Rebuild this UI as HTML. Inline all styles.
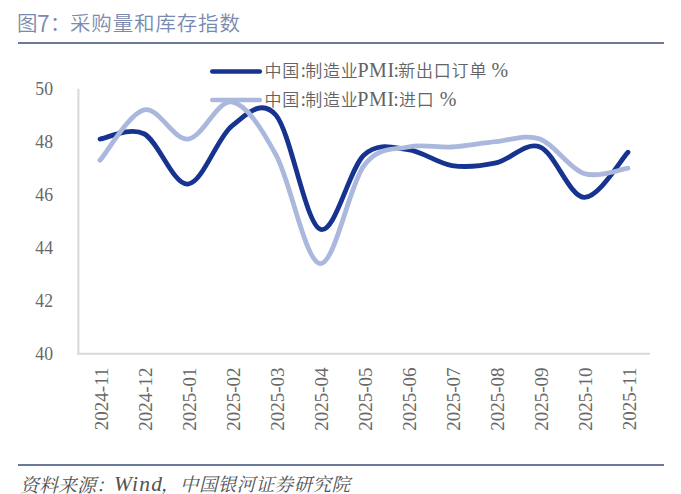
<!DOCTYPE html>
<html><head><meta charset="utf-8">
<style>
html,body{margin:0;padding:0;background:#fff;}
body{width:681px;height:494px;overflow:hidden;position:relative;}
.title{position:absolute;left:17px;top:7.5px;font-family:"Noto Sans CJK SC",sans-serif;font-weight:350;font-size:20.5px;line-height:28px;color:#7a8aae;white-space:nowrap;letter-spacing:0.85px;}
.rule{position:absolute;left:18px;width:646px;height:2px;background:#6b7898;}
.foot{position:absolute;left:20px;top:470px;font-family:"Liberation Serif","Noto Serif CJK SC",serif;font-style:italic;font-size:19px;color:#525252;white-space:nowrap;}
svg{position:absolute;left:0;top:0;}
.ax text{font-family:"Liberation Serif",serif;font-size:19px;fill:#686868;}
.lg text{font-family:"Liberation Serif","Noto Sans CJK SC",serif;font-size:20px;fill:#636363;}
.lg .c{font-family:"Noto Sans CJK SC",sans-serif;font-size:17px;font-weight:350;letter-spacing:0.8px;}
</style></head><body>
<div class="title"><span style="position:absolute;left:0">图</span><span style="position:absolute;left:20px;font-size:23px;top:0.5px">7</span><span style="position:absolute;left:33px">：</span><span style="position:absolute;left:53px">采购量和库存指数</span></div>
<div class="rule" style="top:42px"></div>
<svg width="681" height="494" viewBox="0 0 681 494">
<g fill="none" stroke="#d9d9d9" stroke-width="2">
<line x1="78.4" y1="88.7" x2="78.4" y2="354.7"/>
<line x1="77.4" y1="353.7" x2="650" y2="353.7"/>
</g>
<g class="ax">
<text transform="translate(53 88.70) scale(0.93 1)" text-anchor="end" dy="0.35em">50</text>
<text transform="translate(53 141.70) scale(0.93 1)" text-anchor="end" dy="0.35em">48</text>
<text transform="translate(53 194.70) scale(0.93 1)" text-anchor="end" dy="0.35em">46</text>
<text transform="translate(53 247.70) scale(0.93 1)" text-anchor="end" dy="0.35em">44</text>
<text transform="translate(53 300.70) scale(0.93 1)" text-anchor="end" dy="0.35em">42</text>
<text transform="translate(53 353.70) scale(0.93 1)" text-anchor="end" dy="0.35em">40</text>

<text transform="translate(101.20 367.5) rotate(-90)" x="0" y="0" text-anchor="end" dy="0.35em">2024-11</text>
<text transform="translate(145.20 367.5) rotate(-90)" x="0" y="0" text-anchor="end" dy="0.35em">2024-12</text>
<text transform="translate(189.20 367.5) rotate(-90)" x="0" y="0" text-anchor="end" dy="0.35em">2025-01</text>
<text transform="translate(233.20 367.5) rotate(-90)" x="0" y="0" text-anchor="end" dy="0.35em">2025-02</text>
<text transform="translate(277.20 367.5) rotate(-90)" x="0" y="0" text-anchor="end" dy="0.35em">2025-03</text>
<text transform="translate(321.20 367.5) rotate(-90)" x="0" y="0" text-anchor="end" dy="0.35em">2025-04</text>
<text transform="translate(365.20 367.5) rotate(-90)" x="0" y="0" text-anchor="end" dy="0.35em">2025-05</text>
<text transform="translate(409.20 367.5) rotate(-90)" x="0" y="0" text-anchor="end" dy="0.35em">2025-06</text>
<text transform="translate(453.20 367.5) rotate(-90)" x="0" y="0" text-anchor="end" dy="0.35em">2025-07</text>
<text transform="translate(497.20 367.5) rotate(-90)" x="0" y="0" text-anchor="end" dy="0.35em">2025-08</text>
<text transform="translate(541.20 367.5) rotate(-90)" x="0" y="0" text-anchor="end" dy="0.35em">2025-09</text>
<text transform="translate(585.20 367.5) rotate(-90)" x="0" y="0" text-anchor="end" dy="0.35em">2025-10</text>
<text transform="translate(629.20 367.5) rotate(-90)" x="0" y="0" text-anchor="end" dy="0.35em">2025-11</text>

</g>
<path d="M100.00 139.05 C107.33 138.17 129.33 126.24 144.00 133.75 C158.67 141.26 173.33 185.43 188.00 184.10 C202.67 182.78 217.33 137.28 232.00 125.80 C246.67 114.32 261.33 97.97 276.00 115.20 C290.67 132.42 305.33 222.52 320.00 229.15 C334.67 235.77 349.33 168.20 364.00 154.95 C378.67 141.70 393.33 147.88 408.00 149.65 C422.67 151.42 437.33 163.34 452.00 165.55 C466.67 167.76 481.33 165.99 496.00 162.90 C510.67 159.81 525.33 141.26 540.00 147.00 C554.67 152.74 569.33 196.47 584.00 197.35 C598.67 198.23 620.67 159.81 628.00 152.30" fill="none" stroke="#16338f" stroke-width="4.8" stroke-linecap="round" stroke-linejoin="round"/>
<path d="M100.00 160.25 C107.33 151.86 129.33 113.43 144.00 109.90 C158.67 106.37 173.33 140.37 188.00 139.05 C202.67 137.72 217.33 99.30 232.00 101.95 C246.67 104.60 261.33 128.01 276.00 154.95 C290.67 181.89 305.33 261.83 320.00 263.60 C334.67 265.37 349.33 184.98 364.00 165.55 C378.67 146.12 393.33 150.09 408.00 147.00 C422.67 143.91 437.33 147.88 452.00 147.00 C466.67 146.12 481.33 143.03 496.00 141.70 C510.67 140.37 525.33 133.75 540.00 139.05 C554.67 144.35 569.33 168.64 584.00 173.50 C598.67 178.36 620.67 169.08 628.00 168.20" fill="none" stroke="#aab8de" stroke-width="4.8" stroke-linecap="round" stroke-linejoin="round"/>
<g class="lg">
<line x1="212.3" y1="71.5" x2="259.8" y2="71.5" stroke="#16338f" stroke-width="4.6" stroke-linecap="round"/>
<line x1="212.3" y1="100" x2="259.8" y2="100" stroke="#aab8de" stroke-width="4.6" stroke-linecap="round"/>
<text y="77.3"><tspan class="c" x="264.5" y="77.1">中国</tspan><tspan x="300.6" y="77.3">:</tspan><tspan class="c" x="305.2" y="77.1">制造业</tspan><tspan x="357.5" y="77.3" letter-spacing="0.5">PMI</tspan><tspan x="393.6">:</tspan><tspan class="c" x="398.2" y="77.1">新出口订单</tspan><tspan x="491.5" y="77.3">%</tspan></text>
<text y="106.3"><tspan class="c" x="264.5" y="106">中国</tspan><tspan x="300.6" y="106.3">:</tspan><tspan class="c" x="305.2" y="106">制造业</tspan><tspan x="357.3" y="106.3" letter-spacing="0.5">PMI</tspan><tspan x="393.2">:</tspan><tspan class="c" x="398.9" y="106">进口</tspan><tspan x="439.7" y="106.3">%</tspan></text>
</g>
</svg>
<div class="rule" style="top:464px"></div>
<div class="foot" style="left:20px">资料来源：</div><div class="foot" style="left:114px;font-size:21.5px;letter-spacing:1.3px;top:472px">Wind</div><div class="foot" style="left:161px;font-size:18.5px;letter-spacing:0.45px">，中国银河证券研究院</div>
</body></html>
